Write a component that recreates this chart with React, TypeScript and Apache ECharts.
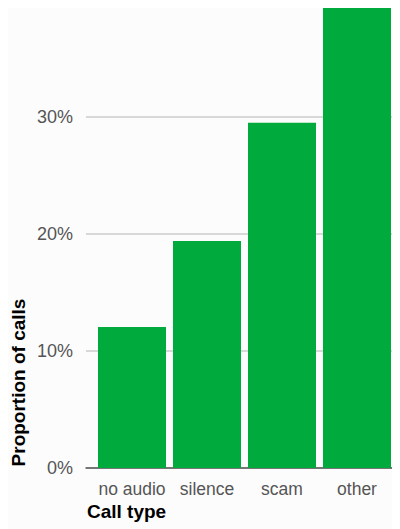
import React, { useEffect, useRef } from "react";
import * as echarts from "echarts";

const categories = ["no audio", "silence", "scam", "other"];
const proportions = [12.05, 19.4, 29.5, 39.4];
const yTicks = [0, 10, 20, 30];

export default function App() {
  const ref = useRef<HTMLDivElement>(null);
  useEffect(() => {
    const chart = echarts.init(ref.current!, null, { renderer: "svg" });
    const font = "'Liberation Sans', Arial, sans-serif";
    chart.setOption({
      animation: false,
      backgroundColor: "#fcfcfc",
      grid: [
        { left: 86.5, right: 5.5, top: 0, bottom: 61 },
        { left: 78, right: 0, top: 108.5, bottom: 61 },
      ],
      xAxis: [
        {
          type: "category",
          gridIndex: 0,
          data: categories,
          axisLine: { show: false },
          axisTick: { show: false },
          axisLabel: { color: "#555", fontSize: 17.5, fontFamily: font, margin: 12, interval: 0 },
        },
        {
          type: "category",
          gridIndex: 1,
          data: [""],
          axisLine: { show: true, lineStyle: { color: "#555", width: 1.5 } },
          axisTick: { show: false },
          axisLabel: { show: false },
        },
      ],
      yAxis: [
        {
          type: "value",
          gridIndex: 0,
          min: 0,
          max: 460 / 11.7,
          show: false,
          splitLine: { show: false },
        },
        {
          type: "value",
          gridIndex: 1,
          min: yTicks[0],
          max: yTicks[yTicks.length - 1],
          interval: 10,
          axisLine: { show: false },
          axisTick: { show: false },
          splitLine: { show: true, lineStyle: { color: "#cccccc", width: 1.5 } },
          axisLabel: {
            color: "#555",
            fontSize: 18,
            fontFamily: font,
            margin: 13,
            formatter: (v: number) => `${v}%`,
          },
        },
      ],
      series: [
        {
          type: "bar",
          xAxisIndex: 0,
          yAxisIndex: 0,
          data: proportions,
          barWidth: 68,
          itemStyle: { color: "#00aa3c" },
          z: 3,
        },
      ],
      graphic: [
        {
          type: "text",
          left: 79,
          top: 494,
          style: {
            text: "Call type",
            font: `bold 19px ${font}`,
            fill: "#000",
          },
        },
        {
          type: "text",
          x: 10,
          y: 374.5,
          rotation: Math.PI / 2,
          style: {
            text: "Proportion of calls",
            font: `bold 19px ${font}`,
            fill: "#000",
            align: "center",
            verticalAlign: "middle",
          },
        },
      ],
    });
    return () => chart.dispose();
  }, []);
  return <div ref={ref} style={{ width: 392, height: 521 }} />;
}
